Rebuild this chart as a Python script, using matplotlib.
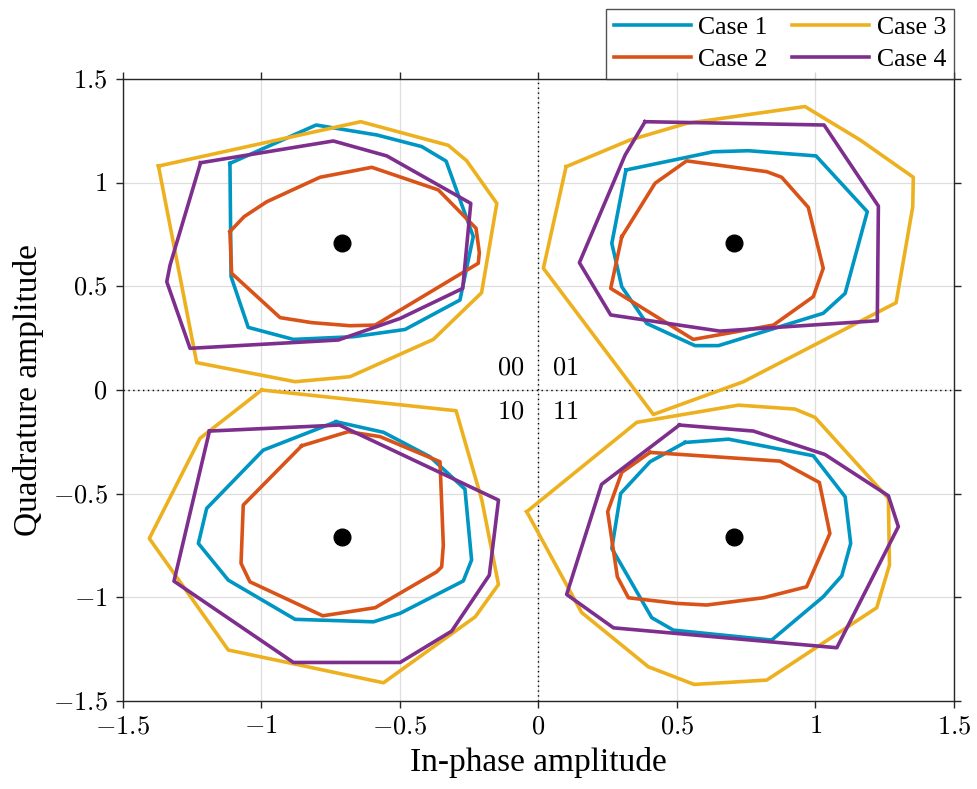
import numpy as np
import matplotlib
matplotlib.use("Agg")
import matplotlib.pyplot as plt
from matplotlib.ticker import FuncFormatter, MultipleLocator

plt.rcParams['font.family'] = ['Liberation Serif', 'DejaVu Serif']
plt.rcParams['mathtext.fontset'] = 'cm'

# constellation points (QPSK, unit energy)
ideal_x = [-0.7071, 0.7071, -0.7071, 0.7071]
ideal_y = [0.7071, 0.7071, -0.7071, -0.7071]
bit_labels = ['00', '01', '10', '11']

case_names = ['Case 1', 'Case 2', 'Case 3', 'Case 4']
case_colors = ['#0096c3', '#d95319', '#edb120', '#7e2f8e']

# decision-region contours (x, y)
case1_00 = [(-1.113, 1.093), (-0.802, 1.278), (-0.583, 1.230), (-0.421, 1.174), (-0.333, 1.104),
            (-0.235, 0.740), (-0.283, 0.434), (-0.481, 0.292), (-0.668, 0.257), (-0.884, 0.244),
            (-1.047, 0.302), (-1.109, 0.547)]
case1_01 = [(0.316, 1.061), (0.631, 1.149), (0.758, 1.154), (1.002, 1.129), (1.187, 0.860),
            (1.107, 0.466), (1.028, 0.370), (0.650, 0.214), (0.565, 0.214), (0.391, 0.321),
            (0.301, 0.498), (0.265, 0.707)]
case1_10 = [(-0.730, -0.153), (-0.559, -0.204), (-0.391, -0.322), (-0.265, -0.478), (-0.241, -0.820),
            (-0.271, -0.921), (-0.499, -1.077), (-0.595, -1.118), (-0.878, -1.106), (-1.119, -0.917),
            (-1.227, -0.740), (-1.197, -0.571), (-0.993, -0.290)]
case1_11 = [(0.529, -0.253), (0.686, -0.237), (0.992, -0.317), (1.107, -0.515), (1.127, -0.740),
            (1.095, -0.896), (1.028, -0.997), (0.842, -1.206), (0.487, -1.158), (0.409, -1.098),
            (0.265, -0.764), (0.297, -0.499), (0.403, -0.346)]

case2_00 = [(-1.113, 0.764), (-1.062, 0.836), (-0.980, 0.908), (-0.788, 1.026), (-0.601, 1.074),
            (-0.361, 0.965), (-0.225, 0.780), (-0.213, 0.662), (-0.217, 0.611), (-0.589, 0.313),
            (-0.680, 0.310), (-0.818, 0.325), (-0.932, 0.349), (-1.107, 0.563)]
case2_01 = [(0.301, 0.739), (0.421, 0.997), (0.535, 1.105), (0.824, 1.053), (0.878, 1.026),
            (0.974, 0.881), (1.028, 0.587), (0.992, 0.450), (0.848, 0.313), (0.559, 0.244),
            (0.261, 0.490)]
case2_10 = [(-0.854, -0.269), (-0.686, -0.201), (-0.571, -0.225), (-0.355, -0.346), (-0.343, -0.748),
            (-0.349, -0.853), (-0.367, -0.877), (-0.589, -1.050), (-0.778, -1.089), (-1.041, -0.925),
            (-1.073, -0.836), (-1.065, -0.555)]
case2_11 = [(0.403, -0.301), (0.872, -0.343), (1.014, -0.446), (1.052, -0.692), (0.968, -0.949),
            (0.812, -1.002), (0.607, -1.037), (0.499, -1.029), (0.325, -1.002), (0.285, -0.901),
            (0.250, -0.587), (0.301, -0.397)]

case3_00 = [(-1.371, 1.080), (-0.641, 1.294), (-0.325, 1.180), (-0.259, 1.106), (-0.150, 0.900),
            (-0.205, 0.469), (-0.379, 0.244), (-0.680, 0.064), (-0.878, 0.040), (-1.233, 0.132)]
case3_01 = [(0.100, 1.077), (0.331, 1.206), (0.535, 1.286), (0.962, 1.367), (1.161, 1.206),
            (1.353, 1.026), (1.351, 0.884), (1.291, 0.421), (0.740, 0.040), (0.415, -0.118),
            (0.018, 0.587)]
case3_10 = [(-0.998, 0.000), (-0.297, -0.100), (-0.204, -0.531), (-0.144, -0.938), (-0.228, -1.094),
            (-0.559, -1.412), (-1.119, -1.254), (-1.404, -0.716), (-1.221, -0.233)]
case3_11 = [(-0.042, -0.587), (0.355, -0.156), (0.722, -0.073), (0.926, -0.092), (0.998, -0.132),
            (1.263, -0.523), (1.267, -0.844), (1.221, -1.050), (0.824, -1.399), (0.562, -1.420),
            (0.397, -1.335), (0.156, -1.073)]

case4_00 = [(-1.219, 1.096), (-0.740, 1.201), (-0.547, 1.129), (-0.244, 0.900), (-0.273, 0.490),
            (-0.499, 0.345), (-0.722, 0.241), (-1.257, 0.201), (-1.341, 0.522), (-1.329, 0.603)]
case4_01 = [(0.385, 1.294), (1.031, 1.278), (1.227, 0.887), (1.223, 0.334), (0.655, 0.284),
            (0.261, 0.362), (0.148, 0.614), (0.313, 1.133)]
case4_10 = [(-1.187, -0.198), (-0.718, -0.169), (-0.144, -0.531), (-0.177, -0.893), (-0.313, -1.163),
            (-0.499, -1.314), (-0.884, -1.314), (-1.315, -0.922)]
case4_11 = [(0.509, -0.169), (0.776, -0.198), (1.034, -0.311), (1.263, -0.510), (1.299, -0.659),
            (1.077, -1.243), (0.271, -1.147), (0.102, -0.986), (0.228, -0.455)]

cases = [
    [case1_00, case1_01, case1_10, case1_11],
    [case2_00, case2_01, case2_10, case2_11],
    [case3_00, case3_01, case3_10, case3_11],
    [case4_00, case4_01, case4_10, case4_11],
]

fig = plt.figure(figsize=(9.77, 7.89), dpi=100)
ax = fig.add_axes([0.1256, 0.1115, 0.8509, 0.7884])

ax.axhline(0, color='k', lw=1.0, linestyle=(0, (1, 2.5)), zorder=1)
ax.axvline(0, color='k', lw=1.0, linestyle=(0, (1, 2.5)), zorder=1)

for name, color, polys in zip(case_names, case_colors, cases):
    for i, pts in enumerate(polys):
        xs = [p[0] for p in pts] + [pts[0][0]]
        ys = [p[1] for p in pts] + [pts[0][1]]
        ax.plot(xs, ys, color=color, lw=2.6, label=name if i == 0 else None, zorder=2)

ax.plot(ideal_x, ideal_y, 'o', color='k', markersize=12, zorder=3)

# bit labels next to the origin
offs = [(-0.05, 0.105, 'right'), (0.05, 0.105, 'left'), (-0.05, -0.11, 'right'), (0.05, -0.11, 'left')]
for lab, (dx, dy, ha) in zip(bit_labels, offs):
    ax.text(dx, dy, '$' + lab + '$', ha=ha, va='center', fontsize=19)

ax.set_xlim(-1.5, 1.5)
ax.set_ylim(-1.5, 1.5)
ax.xaxis.set_major_locator(MultipleLocator(0.5))
ax.yaxis.set_major_locator(MultipleLocator(0.5))
fmt = FuncFormatter(lambda v, p: '$%g$' % v if abs(v) > 1e-9 else '$0$')
ax.xaxis.set_major_formatter(fmt)
ax.yaxis.set_major_formatter(fmt)
ax.tick_params(which='both', direction='out', top=True, right=True, length=5,
               width=1, color='#262626', labelsize=19, pad=6)
ax.grid(True, color='#dedede', lw=0.9)
ax.set_axisbelow(True)
for s in ax.spines.values():
    s.set_color('#262626')
    s.set_linewidth(1.0)

ax.set_xlabel('In-phase amplitude', fontsize=24, labelpad=6)
ax.set_ylabel('Quadrature amplitude', fontsize=24, labelpad=6)

leg = ax.legend(loc='lower right', bbox_to_anchor=(1.0, 1.0), ncol=2, fontsize=18.5,
                frameon=True, fancybox=False, borderaxespad=0, handlelength=3.0,
                handletextpad=0.3, columnspacing=0.95, labelspacing=0.35, borderpad=0.3)
leg.get_frame().set_edgecolor('#262626')
leg.get_frame().set_linewidth(1.0)

fig.savefig('out.png', dpi=100)
